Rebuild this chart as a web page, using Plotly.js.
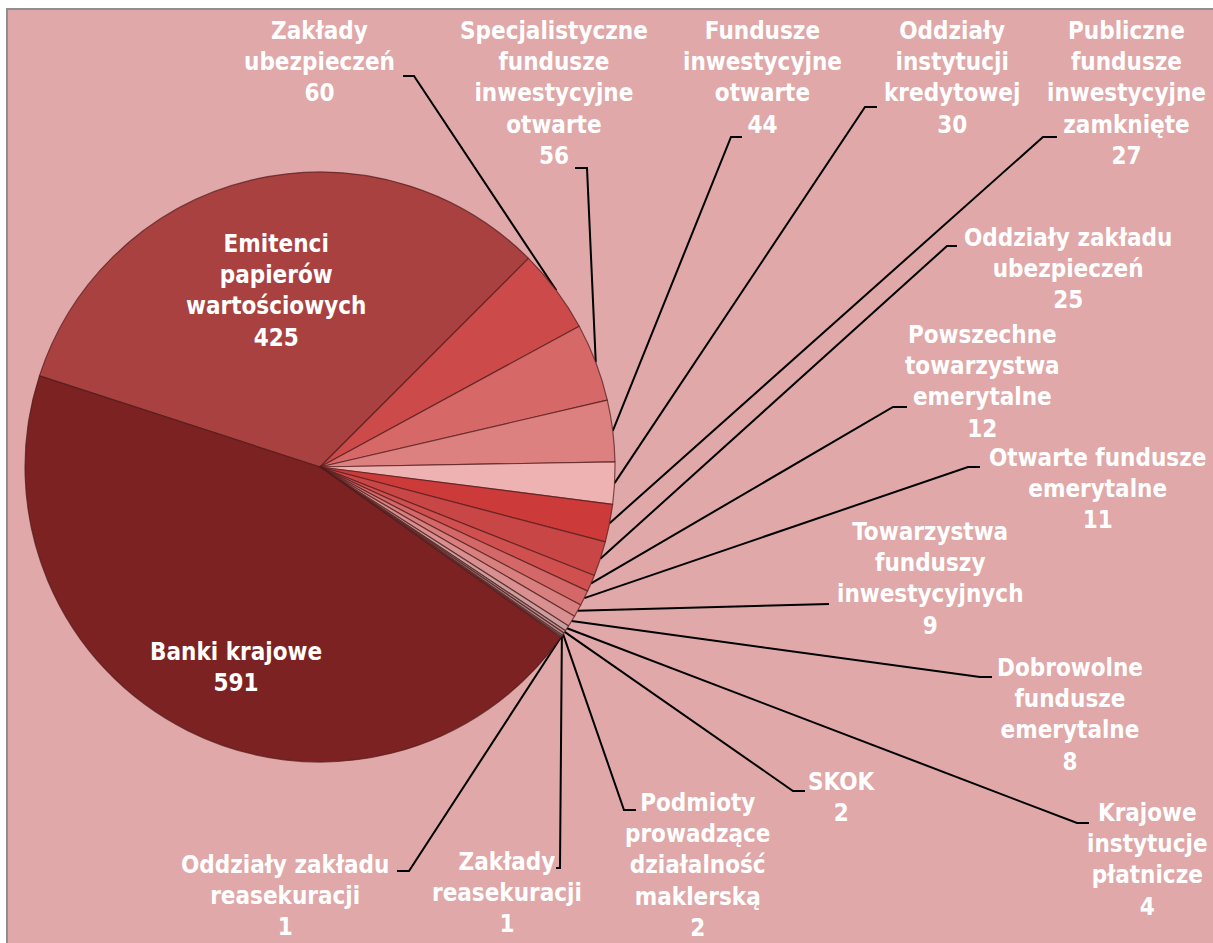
<!DOCTYPE html>
<html>
<head>
<meta charset="utf-8">
<script src="https://cdn.plot.ly/plotly-3.0.1.min.js"></script>
<style>html,body{margin:0;padding:0;background:#fff;}#chart{width:1213px;height:943px;}</style>
</head>
<body>
<div id="chart"></div>
<script>
// ---- data (clockwise order, starting at the Banki/Emitenci boundary) ----
const categories = [
  'Emitenci<br>papierów<br>wartościowych',
  'Zakłady<br>ubezpieczeń',
  'Specjalistyczne<br>fundusze<br>inwestycyjne<br>otwarte',
  'Fundusze<br>inwestycyjne<br>otwarte',
  'Oddziały<br>instytucji<br>kredytowej',
  'Publiczne<br>fundusze<br>inwestycyjne<br>zamknięte',
  'Oddziały zakładu<br>ubezpieczeń',
  'Powszechne<br>towarzystwa<br>emerytalne',
  'Otwarte fundusze<br>emerytalne',
  'Towarzystwa<br>funduszy<br>inwestycyjnych',
  'Dobrowolne<br>fundusze<br>emerytalne',
  'Krajowe<br>instytucje<br>płatnicze',
  'SKOK',
  'Podmioty<br>prowadzące<br>działalność<br>maklerską',
  'Zakłady<br>reasekuracji',
  'Oddziały zakładu<br>reasekuracji',
  'Banki krajowe'
];
const values = [425, 60, 56, 44, 30, 27, 25, 12, 11, 9, 8, 4, 2, 2, 1, 1, 591];

// ---- styling / layout (pixels) ----
const W = 1213, H = 943;
const CX = 320, CY = 467, R = 295;
const startAngle = 288; // degrees clockwise from 12 o'clock
const sliceColors = ['#a94141', '#cc4a4a', '#d76868', '#dc8080', '#efb2b2', '#cc3a3a', '#c84646',
  '#d05050', '#d46868', '#d88080', '#d99090', '#c9a0a0', '#b49090', '#a88888', '#c2a2a2', '#957575', '#7c2222'];
// label centres [x, y] in pixels
const labelPos = [[276, 291], [319, 62], [554, 93], [762, 78], [952, 78], [1126, 93], [1068, 269],
  [982, 382], [1097, 489], [930, 579], [1070, 715], [1147, 860], [842, 797], [698, 865],
  [507, 893], [285, 896], [236, 667]];
// leader elbow [x, y] and tick end x (null = no leader)
const elbows = [null, [414, 76], [587, 168], [731, 137], [865, 107], [1043, 137], [947, 246],
  [893, 407], [968, 467], [818, 604], [980, 677], [1077, 823], [793, 791], [624, 810],
  [560, 868], [409, 871], null];
const tickEnds = [null, 403, 575, 742, 877, 1057, 957, 907, 980, 829, 992, 1089, 805, 636, 556, 397, null];

const total = values.reduce((a, b) => a + b, 0);
const lx = [], ly = [];
let acc = 0;
values.forEach((v, i) => {
  const mid = (startAngle + (acc + v / 2) / total * 360) * Math.PI / 180;
  acc += v;
  if (!elbows[i]) return;
  const px = CX + R * Math.sin(mid), py = CY - R * Math.cos(mid);
  lx.push(px, elbows[i][0], tickEnds[i], null);
  ly.push(py, elbows[i][1], elbows[i][1], null);
});

const annotations = categories.map((c, i) => ({
  x: labelPos[i][0], y: labelPos[i][1], xref: 'x', yref: 'y',
  text: c + '<br>' + values[i], showarrow: false, xanchor: 'center', yanchor: 'middle', align: 'center',
  font: {family: 'DejaVu Sans Condensed, DejaVu Sans, sans-serif', size: 24, color: '#ffffff', weight: 'bold'}
}));

const traces = [
  {type: 'scatter', mode: 'lines', x: lx, y: ly, line: {color: '#000000', width: 2},
   hoverinfo: 'skip', showlegend: false, connectgaps: false},
  {type: 'pie', labels: categories, values: values, sort: false, direction: 'clockwise',
   rotation: startAngle, textinfo: 'none', hoverinfo: 'none', showlegend: false,
   marker: {colors: sliceColors, line: {color: 'rgba(80,25,25,0.7)', width: 1.2}},
   domain: {x: [(CX - R) / W, (CX + R) / W], y: [1 - (CY + R) / H, 1 - (CY - R) / H]}}
];

const layout = {
  width: W, height: H, margin: {l: 0, r: 0, t: 0, b: 0},
  paper_bgcolor: '#ffffff', plot_bgcolor: 'rgba(0,0,0,0)', showlegend: false,
  xaxis: {range: [0, W], visible: false, fixedrange: true},
  yaxis: {range: [H, 0], visible: false, fixedrange: true},
  shapes: [{type: 'rect', xref: 'x', yref: 'y', x0: 7, y0: 9, x1: W + 4, y1: H + 4,
    fillcolor: '#e0a8a8', line: {color: '#8f8f8f', width: 2}, layer: 'below'}],
  annotations: annotations
};

Plotly.newPlot('chart', traces, layout, {displayModeBar: false, staticPlot: true});
</script>
</body>
</html>
